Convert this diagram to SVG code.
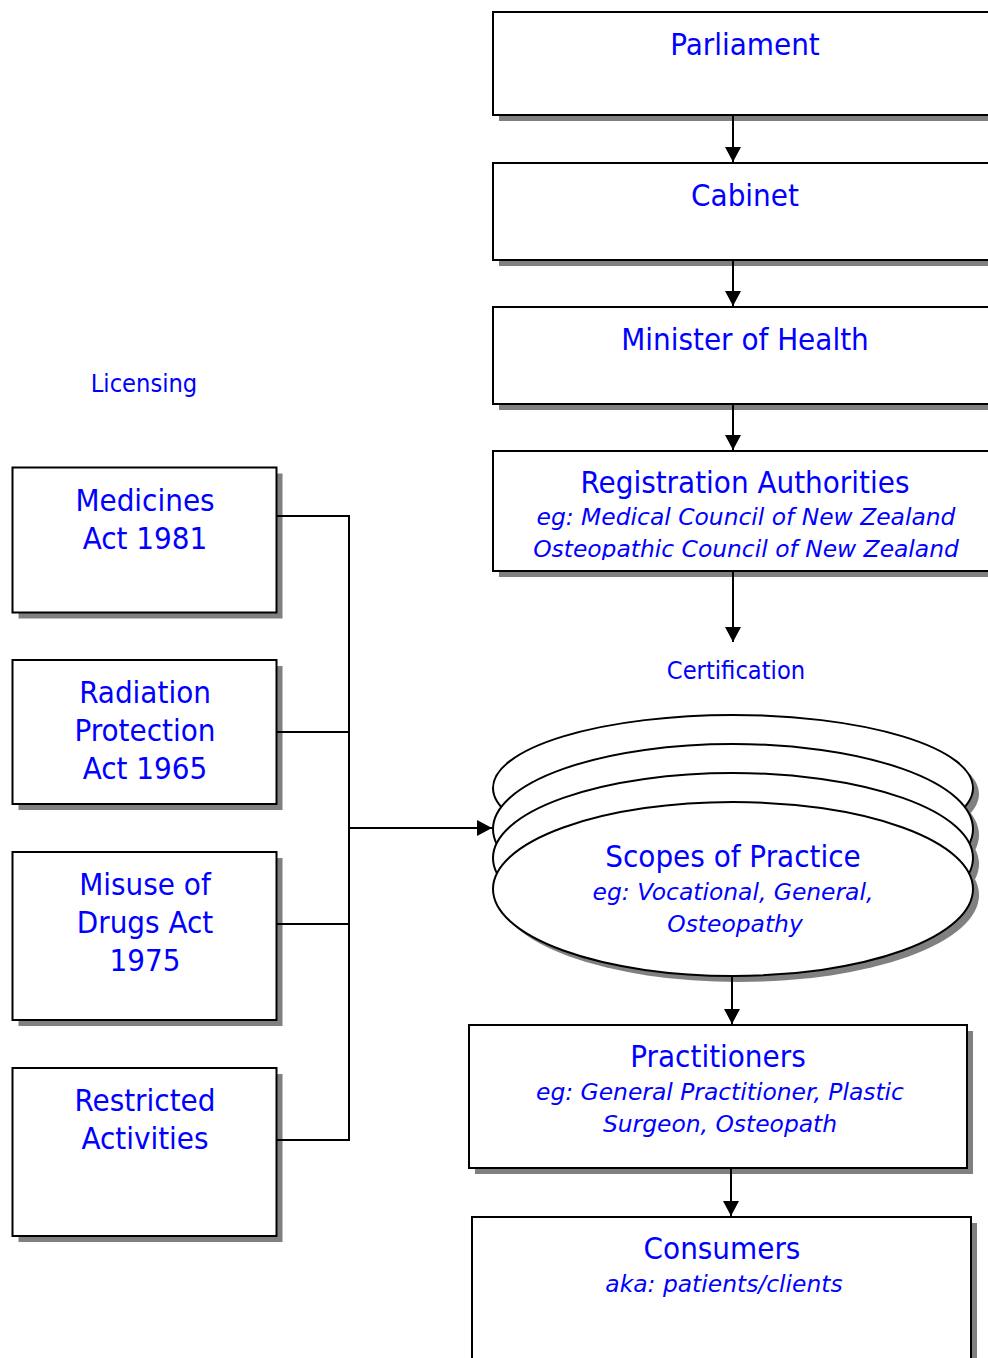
<svg xmlns="http://www.w3.org/2000/svg" width="988" height="1358" viewBox="0 0 988 1358">
<style>
.box{fill:#fff;stroke:#000;stroke-width:2}
.sh{fill:#808080;stroke:none}
.t{font-family:"DejaVu Sans Condensed","DejaVu Sans",sans-serif;font-stretch:condensed;fill:#0000ff;text-anchor:middle;font-size:31px}
.i{font-family:"DejaVu Sans",sans-serif;fill:#0000ff;text-anchor:middle;font-size:23.4px;font-style:italic}
.s{font-family:"DejaVu Sans Condensed","DejaVu Sans",sans-serif;font-stretch:condensed;fill:#0000ff;text-anchor:middle;font-size:25.2px}
.c{fill:none;stroke:#000;stroke-width:2}
</style>
<defs>
<marker id="ah" markerWidth="16" markerHeight="16" refX="15" refY="8" orient="auto" markerUnits="userSpaceOnUse">
<path d="M0,0 L15,8 L0,16 Z" fill="#000"/>
</marker>
<clipPath id="regclip"><rect x="493" y="451" width="510" height="109"/></clipPath>
</defs>
<rect width="988" height="1358" fill="#fff"/>

<g id="parliament">
<rect class="sh" x="499" y="18" width="510" height="103"/>
<rect class="box" x="493" y="12" width="510" height="103"/>
<text class="t" x="745" y="55">Parliament</text>
</g>
<g id="cabinet">
<rect class="sh" x="499" y="169" width="510" height="97"/>
<rect class="box" x="493" y="163" width="510" height="97"/>
<text class="t" x="745" y="206">Cabinet</text>
</g>
<g id="minister">
<rect class="sh" x="499" y="313" width="510" height="97"/>
<rect class="box" x="493" y="307" width="510" height="97"/>
<text class="t" x="745" y="350">Minister of Health</text>
</g>
<g id="registration">
<rect class="sh" x="499" y="457" width="510" height="120"/>
<rect class="box" x="493" y="451" width="510" height="120"/>
<text class="t" x="745" y="493">Registration Authorities</text>
<g clip-path="url(#regclip)">
<text class="i" x="746" y="525">eg: Medical Council of New Zealand</text>
<text class="i" x="746" y="557">Osteopathic Council of New Zealand</text>
</g>
</g>
<g id="certification-label">
<text class="s" x="736" y="679">Certification</text>
</g>
<g id="licensing-label">
<text class="s" x="144" y="392">Licensing</text>
</g>
<g id="scopes">
<ellipse class="sh" cx="739" cy="794" rx="240" ry="73"/>
<ellipse class="sh" cx="739" cy="835" rx="240" ry="85"/>
<ellipse class="sh" cx="739" cy="864" rx="240" ry="85"/>
<ellipse class="sh" cx="739" cy="895" rx="240" ry="87"/>
<ellipse class="box" cx="733" cy="788" rx="240" ry="73"/>
<ellipse class="box" cx="733" cy="829" rx="240" ry="85"/>
<ellipse class="box" cx="733" cy="858" rx="240" ry="85"/>
<ellipse class="box" cx="733" cy="889" rx="240" ry="87"/>
<text class="t" x="733" y="867">Scopes of Practice</text>
<text class="i" x="733" y="900">eg: Vocational, General,</text>
<text class="i" x="735" y="932">Osteopathy</text>
</g>
<g id="practitioners">
<rect class="sh" x="475" y="1031" width="498" height="143"/>
<rect class="box" x="469" y="1025" width="498" height="143"/>
<text class="t" x="718" y="1067">Practitioners</text>
<text class="i" x="720" y="1100">eg: General Practitioner, Plastic</text>
<text class="i" x="720" y="1132">Surgeon, Osteopath</text>
</g>
<g id="consumers">
<rect class="sh" x="478" y="1223" width="499" height="150"/>
<rect class="box" x="472" y="1217" width="499" height="150"/>
<text class="t" x="722" y="1259">Consumers</text>
<text class="i" x="724" y="1292">aka: patients/clients</text>
</g>
<g id="medicines">
<rect class="sh" x="18.5" y="473.5" width="264" height="145"/>
<rect class="box" x="12.5" y="467.5" width="264" height="145"/>
<text class="t" x="145" y="511">Medicines</text>
<text class="t" x="145" y="549">Act 1981</text>
</g>
<g id="radiation">
<rect class="sh" x="18.5" y="666" width="264" height="144"/>
<rect class="box" x="12.5" y="660" width="264" height="144"/>
<text class="t" x="145" y="703">Radiation</text>
<text class="t" x="145" y="741">Protection</text>
<text class="t" x="145" y="779">Act 1965</text>
</g>
<g id="misuse">
<rect class="sh" x="18.5" y="858" width="264" height="168"/>
<rect class="box" x="12.5" y="852" width="264" height="168"/>
<text class="t" x="145" y="895">Misuse of</text>
<text class="t" x="145" y="933">Drugs Act</text>
<text class="t" x="145" y="971">1975</text>
</g>
<g id="restricted">
<rect class="sh" x="18.5" y="1074" width="264" height="168"/>
<rect class="box" x="12.5" y="1068" width="264" height="168"/>
<text class="t" x="145" y="1111">Restricted</text>
<text class="t" x="145" y="1149">Activities</text>
</g>

<g id="connectors">
<line class="c" x1="733" y1="116" x2="733" y2="162" marker-end="url(#ah)"/>
<line class="c" x1="733" y1="261" x2="733" y2="306" marker-end="url(#ah)"/>
<line class="c" x1="733" y1="405" x2="733" y2="450" marker-end="url(#ah)"/>
<line class="c" x1="733" y1="572" x2="733" y2="642" marker-end="url(#ah)"/>
<line class="c" x1="732" y1="977" x2="732" y2="1024" marker-end="url(#ah)"/>
<line class="c" x1="731" y1="1169" x2="731" y2="1216" marker-end="url(#ah)"/>
<polyline class="c" points="277,516 349,516 349,1140 277,1140"/>
<line class="c" x1="277" y1="732" x2="349" y2="732"/>
<line class="c" x1="277" y1="924" x2="349" y2="924"/>
<line class="c" x1="349" y1="828" x2="492" y2="828" marker-end="url(#ah)"/>
</g>
</svg>
